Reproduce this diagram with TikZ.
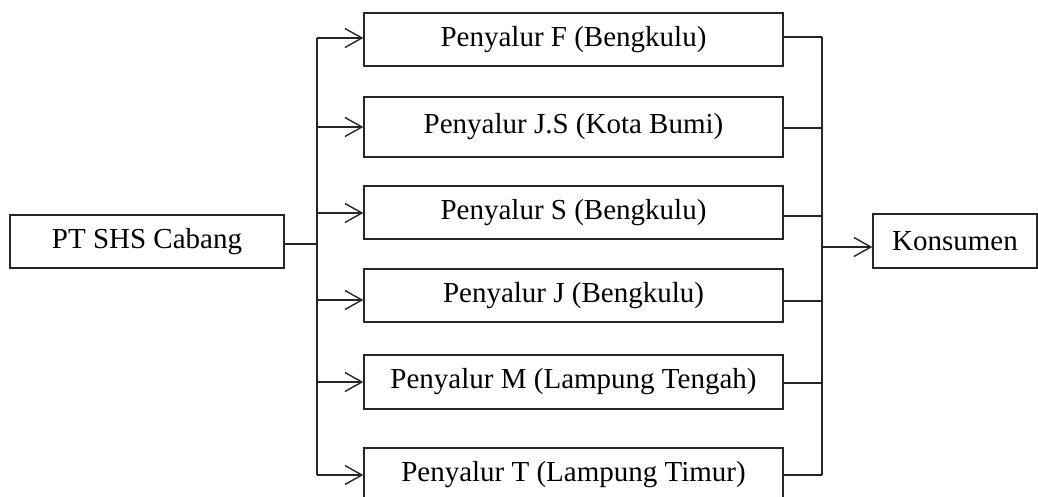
\documentclass[tikz,border=0pt]{standalone}
\usepackage{fontspec}
\setmainfont{Liberation Serif}
\usetikzlibrary{arrows.meta}
\begin{document}
\begin{tikzpicture}[x=1pt,y=-1pt,
  box/.style={draw=black!85,line width=1.3pt,inner sep=0pt,font=\fontsize{29}{34}\selectfont,text=black},
  mid/.style={box,minimum width=419pt},
  conn/.style={draw=black!85,line width=1.4pt},
  arr/.style={conn,-{Straight Barb[length=17pt,width=19pt,line width=1.4pt]}}]
\useasboundingbox (0,0) rectangle (1038,496);
\fill[white] (0,0) rectangle (1038,496);
\node[box,minimum width=274pt,minimum height=53pt] (pt) at (147,241.5) {PT SHS Cabang};
\node[box,minimum width=164pt,minimum height=54pt] (ko) at (955,241) {Konsumen};
\node[mid,minimum height=53pt] (b1) at (573.5,39.5) {Penyalur F (Bengkulu)};
\node[mid,minimum height=60pt] (b2) at (573.5,127) {Penyalur J.S (Kota Bumi)};
\node[mid,minimum height=53pt] (b3) at (573.5,212.5) {Penyalur S (Bengkulu)};
\node[mid,minimum height=53pt] (b4) at (573.5,295.5) {Penyalur J (Bengkulu)};
\node[mid,minimum height=54pt] (b5) at (573.5,382) {Penyalur M (Lampung Tengah)};
\node[mid,minimum height=54pt] (b6) at (573.5,475) {Penyalur T (Lampung Timur)};
% left bus
\coordinate (L0) at (317,244);
\coordinate (L1) at (317,38);
\coordinate (L2) at (317,127);
\coordinate (L3) at (317,213);
\coordinate (L4) at (317,300);
\coordinate (L5) at (317,382);
\coordinate (L6) at (317,475);
\draw[conn] (pt.east |- L0) -- (L0);
\draw[conn] (L1) -- (L6);
\foreach \i in {1,...,6}{\draw[arr] (L\i) -- (L\i -| b\i.west);}
% right bus
\coordinate (R0) at (822,247);
\coordinate (R1) at (822,37);
\coordinate (R2) at (822,128);
\coordinate (R3) at (822,216);
\coordinate (R4) at (822,301);
\coordinate (R5) at (822,383);
\coordinate (R6) at (822,475);
\draw[conn] (R1) -- (R6);
\foreach \i in {1,...,6}{\draw[conn] (R\i -| b\i.east) -- (R\i);}
\draw[arr] (R0) -- (R0 -| ko.west);
\end{tikzpicture}
\end{document}
